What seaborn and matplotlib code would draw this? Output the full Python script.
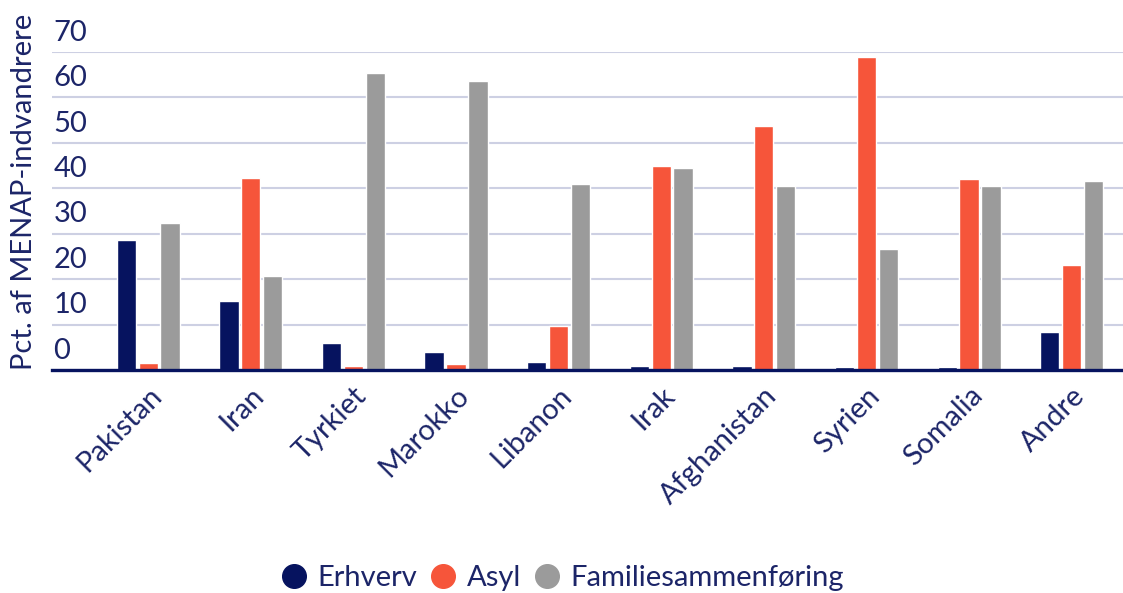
import pandas as pd
import matplotlib
matplotlib.use("Agg")
import matplotlib.pyplot as plt
import matplotlib.transforms as mtransforms
from matplotlib.lines import Line2D
import seaborn as sns

countries = ["Pakistan", "Iran", "Tyrkiet", "Marokko", "Libanon",
             "Irak", "Afghanistan", "Syrien", "Somalia", "Andre"]
erhverv = [28.6, 15.1, 6.0, 4.0, 1.8, 0.9, 0.8, 0.6, 0.6, 8.4]
asyl = [1.5, 42.2, 0.9, 1.3, 9.7, 44.8, 53.6, 68.9, 42.1, 23.1]
familie = [32.3, 20.6, 65.3, 63.6, 40.8, 44.4, 40.4, 26.6, 40.4, 41.6]
series_names = ["Erhverv", "Asyl", "Familiesammenføring"]
y_ticks = [0, 10, 20, 30, 40, 50, 60, 70]

navy = "#06135f"
orange = "#f6553a"
grey = "#9b9b9b"
text_col = "#1c2568"
grid_col = "#cdd0e3"
fs = 21

df = pd.DataFrame({"land": countries, "Erhverv": erhverv, "Asyl": asyl,
                   "Familiesammenføring": familie})
long = df.melt(id_vars="land", var_name="grund", value_name="pct")

sns.set_style("white")
plt.rcParams["font.family"] = ["Lato", "DejaVu Sans"]

fig = plt.figure(figsize=(11.23, 5.93), dpi=100)
ax = fig.add_axes([52 / 1123, 1 - 370 / 593, 1 - 52 / 1123, (370 - 51.7) / 593])

sns.barplot(data=long, x="land", y="pct", hue="grund", hue_order=series_names,
            palette=[navy, orange, grey], width=0.64, gap=0.12,
            order=countries, ax=ax, legend=False, saturation=1)

ax.set_ylim(0, 70)
ax.set_xlim(-0.937, 9.46)
ax.set_yticks(y_ticks)
ax.set_yticklabels([])
ax.tick_params(axis="y", length=0)
ax.grid(axis="y", color=grid_col, linewidth=1.5)
ax.set_axisbelow(True)
for s in ["top", "right", "left"]:
    ax.spines[s].set_visible(False)
ax.spines["bottom"].set_color(navy)
ax.spines["bottom"].set_linewidth(2.4)
ax.spines["bottom"].set_zorder(5)

# y labels sit above their gridline, inside the plot
off = mtransforms.ScaledTranslation(1 / 72, 8 / 72, fig.dpi_scale_trans)
ytrans = mtransforms.blended_transform_factory(ax.transAxes, ax.transData) + off
for v in y_ticks:
    ax.text(0, v, str(v), transform=ytrans, ha="left", va="baseline",
            fontsize=fs, color=text_col)

# category labels, ticks between groups
ax.set_xticks(range(len(countries)))
ax.set_xticklabels(countries, rotation=45, ha="right", rotation_mode="anchor",
                   fontsize=fs, color=text_col)
ax.tick_params(axis="x", which="major", length=0, pad=9)
ax.set_xticks([i - 0.5 for i in range(len(countries) + 1)], minor=True)
ax.tick_params(axis="x", which="minor", length=9, width=1.5, color=navy,
               direction="out")
ax.set_xlabel("")
ax.set_ylabel("")

fig.text(24 / 1123, 1 - 192 / 593, "Pct. af MENAP-indvandrere", rotation=90,
         ha="center", va="center", fontsize=fs, color=text_col)

handles = [Line2D([], [], marker="o", linestyle="", markersize=17, color=c)
           for c in [navy, orange, grey]]
fig.legend(handles, series_names, loc="center", bbox_to_anchor=(0.5, 1 - 578 / 593),
           ncol=3, frameon=False, fontsize=fs, labelcolor=text_col,
           handletextpad=0.3, columnspacing=0.4, handlelength=1.0)

fig.savefig("out.png", dpi=100)
